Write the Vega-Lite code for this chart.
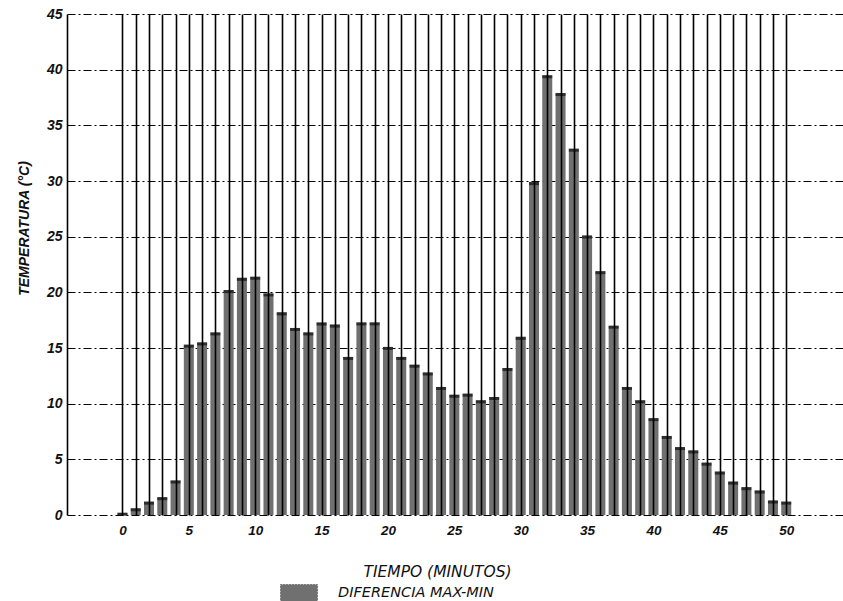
{
  "$schema": "https://vega.github.io/schema/vega-lite/v6.json",
  "width": 776,
  "height": 501,
  "autosize": {"type": "none"},
  "padding": {"left": 67, "top": 14, "right": 0, "bottom": 86},
  "background": "white",
  "config": {"view": {"stroke": null}, "font": "Liberation Sans"},
  "data": {
    "values": [
      {"minuto": 0, "temp": 0.2, "serie": "DIFERENCIA MAX-MIN"},
      {"minuto": 1, "temp": 0.6, "serie": "DIFERENCIA MAX-MIN"},
      {"minuto": 2, "temp": 1.2, "serie": "DIFERENCIA MAX-MIN"},
      {"minuto": 3, "temp": 1.6, "serie": "DIFERENCIA MAX-MIN"},
      {"minuto": 4, "temp": 3.1, "serie": "DIFERENCIA MAX-MIN"},
      {"minuto": 5, "temp": 15.3, "serie": "DIFERENCIA MAX-MIN"},
      {"minuto": 6, "temp": 15.5, "serie": "DIFERENCIA MAX-MIN"},
      {"minuto": 7, "temp": 16.4, "serie": "DIFERENCIA MAX-MIN"},
      {"minuto": 8, "temp": 20.2, "serie": "DIFERENCIA MAX-MIN"},
      {"minuto": 9, "temp": 21.3, "serie": "DIFERENCIA MAX-MIN"},
      {"minuto": 10, "temp": 21.4, "serie": "DIFERENCIA MAX-MIN"},
      {"minuto": 11, "temp": 19.9, "serie": "DIFERENCIA MAX-MIN"},
      {"minuto": 12, "temp": 18.2, "serie": "DIFERENCIA MAX-MIN"},
      {"minuto": 13, "temp": 16.8, "serie": "DIFERENCIA MAX-MIN"},
      {"minuto": 14, "temp": 16.4, "serie": "DIFERENCIA MAX-MIN"},
      {"minuto": 15, "temp": 17.3, "serie": "DIFERENCIA MAX-MIN"},
      {"minuto": 16, "temp": 17.1, "serie": "DIFERENCIA MAX-MIN"},
      {"minuto": 17, "temp": 14.2, "serie": "DIFERENCIA MAX-MIN"},
      {"minuto": 18, "temp": 17.3, "serie": "DIFERENCIA MAX-MIN"},
      {"minuto": 19, "temp": 17.3, "serie": "DIFERENCIA MAX-MIN"},
      {"minuto": 20, "temp": 15.1, "serie": "DIFERENCIA MAX-MIN"},
      {"minuto": 21, "temp": 14.2, "serie": "DIFERENCIA MAX-MIN"},
      {"minuto": 22, "temp": 13.5, "serie": "DIFERENCIA MAX-MIN"},
      {"minuto": 23, "temp": 12.8, "serie": "DIFERENCIA MAX-MIN"},
      {"minuto": 24, "temp": 11.5, "serie": "DIFERENCIA MAX-MIN"},
      {"minuto": 25, "temp": 10.8, "serie": "DIFERENCIA MAX-MIN"},
      {"minuto": 26, "temp": 10.9, "serie": "DIFERENCIA MAX-MIN"},
      {"minuto": 27, "temp": 10.3, "serie": "DIFERENCIA MAX-MIN"},
      {"minuto": 28, "temp": 10.6, "serie": "DIFERENCIA MAX-MIN"},
      {"minuto": 29, "temp": 13.2, "serie": "DIFERENCIA MAX-MIN"},
      {"minuto": 30, "temp": 16.0, "serie": "DIFERENCIA MAX-MIN"},
      {"minuto": 31, "temp": 29.9, "serie": "DIFERENCIA MAX-MIN"},
      {"minuto": 32, "temp": 39.5, "serie": "DIFERENCIA MAX-MIN"},
      {"minuto": 33, "temp": 37.9, "serie": "DIFERENCIA MAX-MIN"},
      {"minuto": 34, "temp": 32.9, "serie": "DIFERENCIA MAX-MIN"},
      {"minuto": 35, "temp": 25.1, "serie": "DIFERENCIA MAX-MIN"},
      {"minuto": 36, "temp": 21.9, "serie": "DIFERENCIA MAX-MIN"},
      {"minuto": 37, "temp": 17.0, "serie": "DIFERENCIA MAX-MIN"},
      {"minuto": 38, "temp": 11.5, "serie": "DIFERENCIA MAX-MIN"},
      {"minuto": 39, "temp": 10.3, "serie": "DIFERENCIA MAX-MIN"},
      {"minuto": 40, "temp": 8.7, "serie": "DIFERENCIA MAX-MIN"},
      {"minuto": 41, "temp": 7.1, "serie": "DIFERENCIA MAX-MIN"},
      {"minuto": 42, "temp": 6.1, "serie": "DIFERENCIA MAX-MIN"},
      {"minuto": 43, "temp": 5.8, "serie": "DIFERENCIA MAX-MIN"},
      {"minuto": 44, "temp": 4.7, "serie": "DIFERENCIA MAX-MIN"},
      {"minuto": 45, "temp": 3.9, "serie": "DIFERENCIA MAX-MIN"},
      {"minuto": 46, "temp": 3.0, "serie": "DIFERENCIA MAX-MIN"},
      {"minuto": 47, "temp": 2.5, "serie": "DIFERENCIA MAX-MIN"},
      {"minuto": 48, "temp": 2.2, "serie": "DIFERENCIA MAX-MIN"},
      {"minuto": 49, "temp": 1.3, "serie": "DIFERENCIA MAX-MIN"},
      {"minuto": 50, "temp": 1.2, "serie": "DIFERENCIA MAX-MIN"}
    ]
  },
  "layer": [
    {
      "mark": {"type": "bar", "size": 10},
      "encoding": {
        "x": {
          "field": "minuto",
          "type": "quantitative",
          "scale": {"domain": [-3.8, 53.9], "nice": false, "zero": false},
          "axis": {
            "values": [0,1,2,3,4,5,6,7,8,9,10,11,12,13,14,15,16,17,18,19,20,21,22,23,24,25,26,27,28,29,30,31,32,33,34,35,36,37,38,39,40,41,42,43,44,45,46,47,48,49,50],
            "tickCount": 100,
            "format": "d",
            "labelExpr": "datum.value % 5 === 0 ? format(datum.value, 'd') : ''",
            "labelOverlap": false,
            "labelFlush": false,
            "grid": true,
            "gridColor": "#000000",
            "gridWidth": 1.6,
            "gridOpacity": 1,
            "ticks": false,
            "domain": false,
            "zindex": 1,
            "labelFont": "Liberation Sans",
            "labelFontStyle": "italic",
            "labelFontWeight": "bold",
            "labelFontSize": 13.5,
            "labelColor": "#111111",
            "labelPadding": 8,
            "labelBaseline": "top",
            "title": "TIEMPO (MINUTOS)",
            "titleFont": "DejaVu Sans",
            "titleFontStyle": "italic",
            "titleFontWeight": "normal",
            "titleFontSize": 15.5,
            "titleColor": "#111111",
            "titleX": 370,
            "titleY": 56,
            "titleAlign": "center",
            "titleBaseline": "middle"
          }
        },
        "y": {
          "field": "temp",
          "type": "quantitative",
          "scale": {"domain": [0, 45], "nice": false},
          "axis": {
            "values": [0, 5, 10, 15, 20, 25, 30, 35, 40, 45],
            "tickCount": 20,
            "format": "d",
            "grid": true,
            "gridColor": "#000000",
            "gridWidth": 1,
            "gridOpacity": 1,
            "gridDash": [8, 3, 2, 3],
            "ticks": false,
            "domain": true,
            "domainColor": "#000000",
            "domainWidth": 1.6,
            "labelFont": "Liberation Sans",
            "labelFontStyle": "italic",
            "labelFontWeight": "bold",
            "labelFontSize": 14,
            "labelColor": "#111111",
            "labelPadding": 5,
            "title": "TEMPERATURA (°C)",
            "titleFont": "Liberation Sans",
            "titleFontStyle": "italic",
            "titleFontWeight": "bold",
            "titleFontSize": 14,
            "titleColor": "#111111",
            "titleAngle": -90,
            "titleAlign": "center",
            "titleBaseline": "middle",
            "titleX": -43,
            "titleY": 214
          }
        },
        "fill": {
          "field": "serie",
          "type": "nominal",
          "scale": {"range": ["#707070"]},
          "legend": {
            "title": null,
            "orient": "none",
            "legendX": 213,
            "legendY": 560,
            "padding": 0,
            "symbolType": "M-1,-0.46H1V0.46H-1Z",
            "symbolSize": 1369,
            "symbolFillColor": "#a0a0a0",
            "symbolStrokeColor": "#444444",
            "symbolStrokeWidth": 1,
            "symbolDash": [1, 2],
            "labelOffset": 20,
            "labelFont": "DejaVu Sans",
            "labelFontStyle": "italic",
            "labelFontSize": 14.5,
            "labelColor": "#111111",
            "labelLimit": 400
          }
        }
      }
    },
    {
      "mark": {"type": "tick", "orient": "horizontal", "size": 10, "thickness": 3, "color": "#111111", "yOffset": 1.5},
      "encoding": {
        "x": {"field": "minuto", "type": "quantitative"},
        "y": {"field": "temp", "type": "quantitative"}
      }
    }
  ]
}
